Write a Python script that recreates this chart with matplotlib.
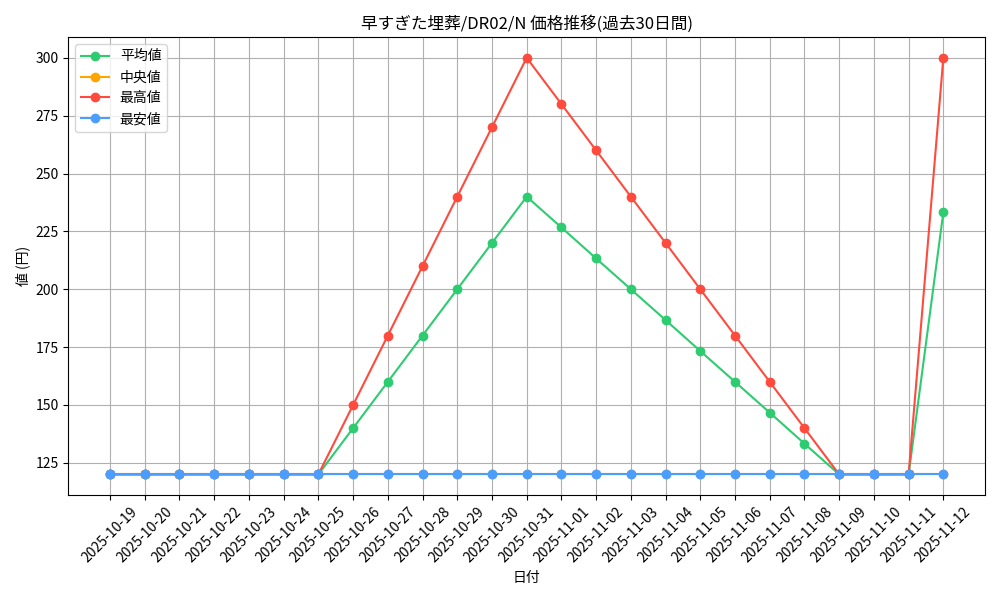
import matplotlib
matplotlib.use('Agg')
import matplotlib.pyplot as plt

plt.rcParams['font.family'] = ['Noto Sans CJK JP', 'DejaVu Sans']

dates = ['2025-10-19', '2025-10-20', '2025-10-21', '2025-10-22', '2025-10-23',
         '2025-10-24', '2025-10-25', '2025-10-26', '2025-10-27', '2025-10-28',
         '2025-10-29', '2025-10-30', '2025-10-31', '2025-11-01', '2025-11-02',
         '2025-11-03', '2025-11-04', '2025-11-05', '2025-11-06', '2025-11-07',
         '2025-11-08', '2025-11-09', '2025-11-10', '2025-11-11', '2025-11-12']

avg_price = [120, 120, 120, 120, 120, 120, 120, 140, 160, 180, 200, 220, 240,
             226.7, 213.3, 200, 186.7, 173.3, 160, 146.7, 133.3, 120, 120, 120, 233.3]
median_price = [120] * 25
max_price = [120, 120, 120, 120, 120, 120, 120, 150, 180, 210, 240, 270, 300,
             280, 260, 240, 220, 200, 180, 160, 140, 120, 120, 120, 300]
min_price = [120] * 25

fig, ax = plt.subplots(figsize=(10, 6), dpi=100)

ax.plot(dates, avg_price, marker='o', color='#2ecc71', label='平均値')
ax.plot(dates, median_price, marker='o', color='#ffa500', label='中央値')
ax.plot(dates, max_price, marker='o', color='#ff4b3e', label='最高値')
ax.plot(dates, min_price, marker='o', color='#4a9eff', label='最安値')

ax.set_title('早すぎた埋葬/DR02/N 価格推移(過去30日間)')
ax.set_xlabel('日付')
ax.set_ylabel('値 (円)')
ax.grid(True)
ax.legend(loc='upper left')
plt.xticks(rotation=45)

plt.tight_layout()
plt.savefig('out.png')
